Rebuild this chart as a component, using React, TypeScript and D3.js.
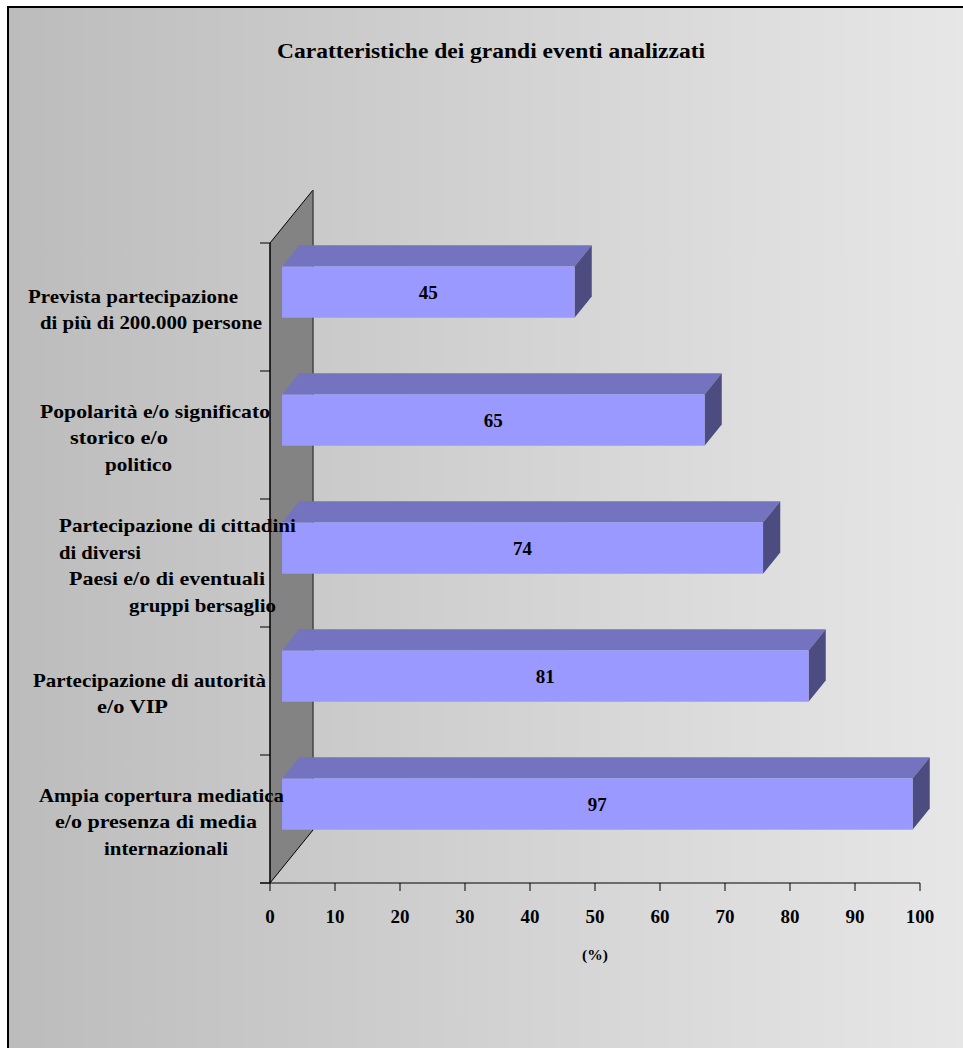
import React from "react";
import * as d3 from "d3";

// ---- data ----
const categories: string[][] = [
  ["Prevista partecipazione", "di più di 200.000 persone"],
  ["Popolarità e/o significato", "storico e/o", "politico"],
  ["Partecipazione di cittadini", "di diversi", "Paesi e/o di eventuali", "gruppi bersaglio"],
  ["Partecipazione di autorità", "e/o VIP"],
  ["Ampia copertura mediatica", "e/o presenza di media", "internazionali"],
];
const values: number[] = [45, 65, 74, 81, 97];
const xTicks: number[] = [0, 10, 20, 30, 40, 50, 60, 70, 80, 90, 100];
const title = "Caratteristiche dei grandi eventi analizzati";
const xAxisTitle = "(%)";

// ---- layout ----
const W = 963;
const H = 1048;
const DEPTH = { dx: 43, dy: -53 };
const BAR_D0 = 0.28;
const BAR_D1 = 0.68;
// left/right extent of each label line (reference text is hand-indented)
const labelExtents: [number, number][][] = [
  [[28, 238], [40, 262]],
  [[40, 270], [70, 168], [105, 172]],
  [[59, 296], [59, 141], [69, 265], [129, 276]],
  [[33, 266], [97, 168]],
  [[39, 284], [55, 257], [104, 228]],
];

export default function App() {
  const ids = categories.map((_, i) => String(i));
  const x = d3.scaleLinear().domain([0, 100]).range([270, 920]);
  const y = d3.scaleBand<string>().domain(ids).range([243, 883]).paddingInner(0.6).paddingOuter(0.3);
  const band = d3.scaleBand<string>().domain(ids).range([243, 883]).padding(0);
  const x0 = x(0);
  const yTop = 243;
  const yBot = 883;
  const proj = (px: number, py: number, d: number): [number, number] => [px + d * DEPTH.dx, py + d * DEPTH.dy];
  const poly = (pts: [number, number][]) => pts.map((p) => p.join(",")).join(" ");

  const font = "'Liberation Serif', 'Times New Roman', serif";

  return (
    <svg width={W} height={H} style={{ position: "absolute", left: 0, top: 0, display: "block" }}>
      <defs>
        <linearGradient id="bg" x1="0" x2="1" y1="0" y2="0">
          <stop offset="0" stopColor="#bcbcbc" />
          <stop offset="1" stopColor="#e8e8e8" />
        </linearGradient>
      </defs>
      <rect x={0} y={0} width={W} height={H} fill="#ffffff" />
      <rect x={8} y={7} width={W + 20} height={H + 20} fill="url(#bg)" stroke="#000" strokeWidth={2} />

      <text
        x={491}
        y={58}
        textAnchor="middle"
        fontFamily={font}
        fontWeight="bold"
        fontSize={20}
        fill="#000"
        textLength={428}
        lengthAdjust="spacingAndGlyphs"
      >
        {title}
      </text>

      {/* side wall */}
      <polygon
        points={poly([proj(x0, yTop, 0), proj(x0, yTop, 1), proj(x0, yBot, 1), proj(x0, yBot, 0)])}
        fill="#838383"
        stroke="none"
      />
      <line x1={x0} y1={yTop} x2={proj(x0, yTop, 1)[0]} y2={proj(x0, yTop, 1)[1]} stroke="#000" strokeWidth={1} />
      <line x1={x0} y1={yBot} x2={proj(x0, yBot, 1)[0]} y2={proj(x0, yBot, 1)[1]} stroke="#000" strokeWidth={1} />
      <line
        x1={proj(x0, yTop, 1)[0]}
        y1={proj(x0, yTop, 1)[1]}
        x2={proj(x0, yBot, 1)[0]}
        y2={proj(x0, yBot, 1)[1]}
        stroke="#444"
        strokeWidth={1.5}
      />
      <line x1={x0} y1={yTop} x2={x0} y2={yBot} stroke="#000" strokeWidth={1.5} />

      {/* category ticks */}
      {[...ids.map((id) => band(id)!), yBot].map((t, i) => (
        <line key={"ct" + i} x1={x0 - 10} x2={x0} y1={t} y2={t} stroke="#000" strokeWidth={1} />
      ))}

      {/* x axis */}
      <line x1={x0 - 10} x2={x(100)} y1={yBot} y2={yBot} stroke="#000" strokeWidth={1} />
      {xTicks.map((t) => (
        <g key={"xt" + t}>
          <line x1={x(t)} x2={x(t)} y1={yBot} y2={yBot + 8} stroke="#000" strokeWidth={1} />
          <text x={x(t)} y={yBot + 40} textAnchor="middle" fontFamily={font} fontWeight="bold" fontSize={19} fill="#000">
            {t}
          </text>
        </g>
      ))}
      <text x={x(50)} y={960} textAnchor="middle" fontFamily={font} fontWeight="bold" fontSize={15.5} fill="#000">
        {xAxisTitle}
      </text>

      {/* bars */}
      {values.map((v, i) => {
        const id = ids[i];
        const t = y(id)!;
        const b = t + y.bandwidth();
        const xr = x(v);
        const fTL = proj(x0, t, BAR_D0);
        const fTR = proj(xr, t, BAR_D0);
        const fBR = proj(xr, b, BAR_D0);
        const fBL = proj(x0, b, BAR_D0);
        const bTL = proj(x0, t, BAR_D1);
        const bTR = proj(xr, t, BAR_D1);
        const bBR = proj(xr, b, BAR_D1);
        return (
          <g key={"bar" + i}>
            <polygon points={poly([fTL, fTR, bTR, bTL])} fill="#7373bf" />
            <polygon points={poly([fTR, bTR, bBR, fBR])} fill="#4c4c80" />
            <polygon points={poly([fTL, fTR, fBR, fBL])} fill="#9999ff" />
            <text
              x={(fTL[0] + fTR[0]) / 2}
              y={(fTL[1] + fBL[1]) / 2 + 7}
              textAnchor="middle"
              fontFamily={font}
              fontWeight="bold"
              fontSize={19}
              fill="#000"
            >
              {v}
            </text>
          </g>
        );
      })}

      {/* category labels */}
      {categories.map((lines, i) => {
        const id = ids[i];
        const c = band(id)! + band.bandwidth() / 2;
        const n = lines.length;
        return (
          <g key={"cl" + i}>
            {lines.map((ln, j) => {
              const [a, b] = labelExtents[i][j];
              return (
                <text
                  key={j}
                  x={a}
                  y={c + 9 + (j - (n - 1) / 2) * 26.5}
                  fontFamily={font}
                  fontWeight="bold"
                  fontSize={19}
                  fill="#000"
                  textLength={b - a}
                  lengthAdjust="spacingAndGlyphs"
                >
                  {ln}
                </text>
              );
            })}
          </g>
        );
      })}
    </svg>
  );
}
